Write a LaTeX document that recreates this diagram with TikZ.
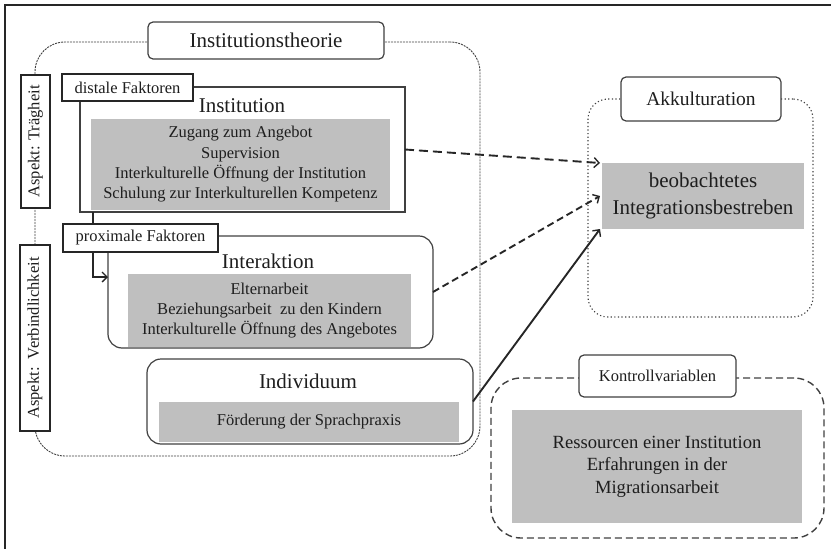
\documentclass[tikz,border=0pt]{standalone}
\usepackage{fontspec}
\setmainfont{Liberation Serif}
\usetikzlibrary{arrows.meta}
\definecolor{cfill}{HTML}{BFBFBF}
\definecolor{cline}{HTML}{404040}
\definecolor{ctext}{HTML}{1E1E1E}
\newcommand{\bigfont}{\fontsize{21}{25}\selectfont}
\newcommand{\midfont}{\fontsize{16.5}{20.3}\selectfont}
\tikzset{
  every picture/.style={line width=1.2pt},
  every node/.style={inner sep=0pt, outer sep=0pt, text=ctext, align=center},
  titlebox/.style={draw=cline, fill=white, rounded corners=5pt, line width=1.2pt},
  tagbox/.style={draw=black!85, fill=white, line width=1.9pt, font=\midfont},
  grey/.style={fill=cfill, font=\midfont},
  frame/.style={draw=cline, line width=1.2pt},
  theory/.style={draw=cline, line width=0.9pt, dash pattern=on 2pt off 1pt, rounded corners=30pt},
  akk/.style={draw=cline, line width=1.1pt, dash pattern=on 1.2pt off 2.4pt, rounded corners=20pt},
  ctrl/.style={draw=cline, line width=1.4pt, dash pattern=on 7pt off 4pt, rounded corners=30pt},
  link/.style={draw=black!85, line width=1.9pt},
  arrow/.style={-{Straight Barb[length=5pt, width=10pt, line width=1.4pt]}, draw=black!85, line width=1.9pt},
}

\begin{document}
\begin{tikzpicture}[x=1pt, y=-1pt]
  \useasboundingbox (0,0) rectangle (831,549);
  % page frame
  \draw[black!85, line width=1.5pt] (5,560) -- (5,5) -- (840,5);

  % Institutionstheorie
  \node[theory, minimum width=445pt, minimum height=414pt] (theory) at (257.5,249) {};
  \node[titlebox, minimum width=236pt, minimum height=37pt, font=\bigfont] (theorytitle) at (266,40.5) {Institutionstheorie};
  \node[tagbox, rotate=90, minimum width=133pt, minimum height=29pt] (inertia) at (35.5,141.5) {Aspekt: Trägheit};
  \node[tagbox, rotate=90, minimum width=186pt, minimum height=30pt] (binding) at (35,338) {Aspekt:\ \ Verbindlichkeit};

  % Institution
  \node[frame, minimum width=325pt, minimum height=125pt] (inst) at (242.5,149.5) {};
  \node[font=\bigfont] (insttitle) at (242,106) {Institution};
  \node[grey, minimum width=299pt, minimum height=91pt] (instlist) at (240.5,164.5)
    {Zugang zum Angebot\\Supervision\\Interkulturelle Öffnung der Institution\\Schulung zur Interkulturellen Kompetenz};
  \node[tagbox, minimum width=131pt, minimum height=27pt] (distal) at (127.5,87.5) {distale Faktoren};

  % Interaktion
  \node[frame, rounded corners=14pt, minimum width=325pt, minimum height=112pt] (inter) at (270.5,292) {};
  \node[font=\bigfont] (intertitle) at (268,261) {Interaktion};
  \node[grey, minimum width=283pt, minimum height=73pt] (interlist) at (269.5,310.5)
    {Elternarbeit\\Beziehungsarbeit\ \ zu den Kindern\\Interkulturelle Öffnung des Angebotes};
  \node[tagbox, minimum width=155pt, minimum height=28pt] (prox) at (140.5,238) {proximale Faktoren};
  \draw[link] ([xshift=13pt]inst.south west) -- ([xshift=30pt]prox.north west);
  \draw[arrow, line width=1.6pt] ([xshift=30pt]prox.south west) |- ([yshift=15pt]inter.west);

  % Individuum
  \node[frame, rounded corners=14pt, minimum width=326pt, minimum height=85pt] (indiv) at (310,401.5) {};
  \node[font=\bigfont] (indivtitle) at (308,381) {Individuum};
  \node[grey, minimum width=300pt, minimum height=40pt] (indivlist) at (309,422) {Förderung der Sprachpraxis};

  % Akkulturation
  \node[akk, minimum width=225pt, minimum height=218pt] (acc) at (700.5,208) {};
  \node[titlebox, minimum width=160pt, minimum height=44pt, font=\fontsize{19.5}{23}\selectfont] (acctitle) at (701,99) {Akkulturation};
  \node[grey, minimum width=202pt, minimum height=66pt, font=\fontsize{21}{27}\selectfont] (beob) at (703,196)
    {beobachtetes\\Integrationsbestreben};

  % Kontrollvariablen
  \node[ctrl, minimum width=333pt, minimum height=160pt] (ctrl) at (657.5,458) {};
  \node[titlebox, minimum width=157pt, minimum height=42pt, font=\midfont] (ctrltitle) at (657.5,376) {Kontrollvariablen};
  \node[grey, minimum width=290pt, minimum height=113pt, font=\fontsize{18.6}{22.5}\selectfont] (ctrllist) at (657,466.5)
    {Ressourcen einer Institution\\Erfahrungen in der\\Migrationsarbeit};

  % effects
  \draw[arrow, dash pattern=on 9pt off 5pt] (inst.east) -- ([xshift=-2pt]beob.north west);
  \draw[arrow, dash pattern=on 7pt off 4pt] (inter.east) -- ([xshift=-2pt]beob.west);
  \draw[arrow] (indiv.east) -- ([xshift=-2pt]beob.south west);
\end{tikzpicture}
\end{document}
